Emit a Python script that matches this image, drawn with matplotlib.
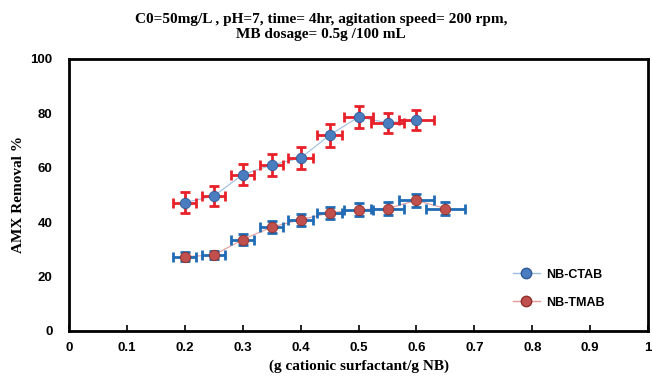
import matplotlib.pyplot as plt

dose_ctab = [0.2, 0.25, 0.3, 0.35, 0.4, 0.45, 0.5, 0.55, 0.6]
removal_ctab = [47.2, 49.6, 57.5, 61.0, 63.6, 72.0, 78.7, 76.5, 77.6]
yerr_ctab = [3.8, 3.8, 4.0, 4.0, 4.0, 4.2, 4.0, 3.8, 3.8]
xerr_ctab = [0.02, 0.02, 0.02, 0.02, 0.022, 0.022, 0.025, 0.028, 0.03]

dose_tmab = [0.2, 0.25, 0.3, 0.35, 0.4, 0.45, 0.5, 0.55, 0.6, 0.65]
removal_tmab = [27.3, 27.9, 33.6, 38.2, 40.9, 43.4, 44.6, 45.0, 48.0, 45.0]
yerr_tmab = [1.6, 1.6, 2.0, 2.2, 2.2, 2.2, 2.4, 2.4, 2.4, 2.4]
xerr_tmab = [0.02, 0.02, 0.02, 0.02, 0.022, 0.022, 0.025, 0.028, 0.03, 0.033]

fig = plt.figure(figsize=(6.52, 3.83), dpi=100)
ax = fig.add_axes([0.106, 0.136, 0.888, 0.71])

# error bars first, markers on top
ax.errorbar(dose_ctab, removal_ctab, xerr=xerr_ctab, yerr=yerr_ctab, fmt='none',
            ecolor='#e8202a', elinewidth=2, capsize=3.5, capthick=2, zorder=2)
ax.errorbar(dose_tmab, removal_tmab, xerr=xerr_tmab, yerr=yerr_tmab, fmt='none',
            ecolor='#1f6bb5', elinewidth=2, capsize=3.5, capthick=2, zorder=2)

ax.plot(dose_ctab, removal_ctab, '-', color='#9dbde0', lw=0.8, zorder=1)
ax.plot(dose_tmab, removal_tmab, '-', color='#e39a98', lw=0.8, zorder=1)
ax.plot(dose_ctab, removal_ctab, 'o', color='#4a7cc0', mec='#2f5a95', mew=0.6,
        ms=7.5, zorder=3)
ax.plot(dose_tmab, removal_tmab, 'o', color='#c0504d', mec='#8e2f2c', mew=0.6,
        ms=7.5, zorder=3)

# legend proxies
h1, = ax.plot([], [], '-o', color='#9dbde0', mfc='#4a7cc0', mec='#2f5a95', ms=7.5, lw=1)
h2, = ax.plot([], [], '-o', color='#e39a98', mfc='#c0504d', mec='#8e2f2c', ms=7.5, lw=1)
ax.legend([h1, h2], ['NB-CTAB', 'NB-TMAB'], loc='lower right', bbox_to_anchor=(0.945, 0.04),
          frameon=False, labelspacing=1.3, handlelength=2.2, handletextpad=0.5,
          prop={'family': 'Liberation Sans', 'weight': 'bold', 'size': 9})

ax.set_xlim(0, 1)
ax.set_ylim(0, 100)
ax.set_xticks([0, 0.1, 0.2, 0.3, 0.4, 0.5, 0.6, 0.7, 0.8, 0.9, 1])
ax.set_xticklabels(['0', '0.1', '0.2', '0.3', '0.4', '0.5', '0.6', '0.7', '0.8', '0.9', '1'])
ax.set_yticks([0, 20, 40, 60, 80, 100])
ax.tick_params(axis='x', direction='in', length=4, width=1.2, pad=8)
ax.tick_params(axis='y', length=0, pad=12)
for lab in ax.get_xticklabels() + ax.get_yticklabels():
    lab.set_fontfamily('Liberation Sans')
    lab.set_fontweight('bold')
    lab.set_fontsize(9.5)
for s in ax.spines.values():
    s.set_linewidth(2)

ax.set_xlabel('(g cationic surfactant/g NB)', family='Liberation Serif',
              fontweight='bold', fontsize=11)
ax.set_ylabel('AMX Removal %', family='Liberation Serif', fontweight='bold', fontsize=11)
fig.text(0.492, 0.965, 'C0=50mg/L , pH=7, time= 4hr, agitation speed= 200 rpm,\nMB dosage= 0.5g /100 mL',
         ha='center', va='top', family='Liberation Serif', fontweight='bold', fontsize=11,
         linespacing=1.15)

fig.savefig('out.png', dpi=100)
